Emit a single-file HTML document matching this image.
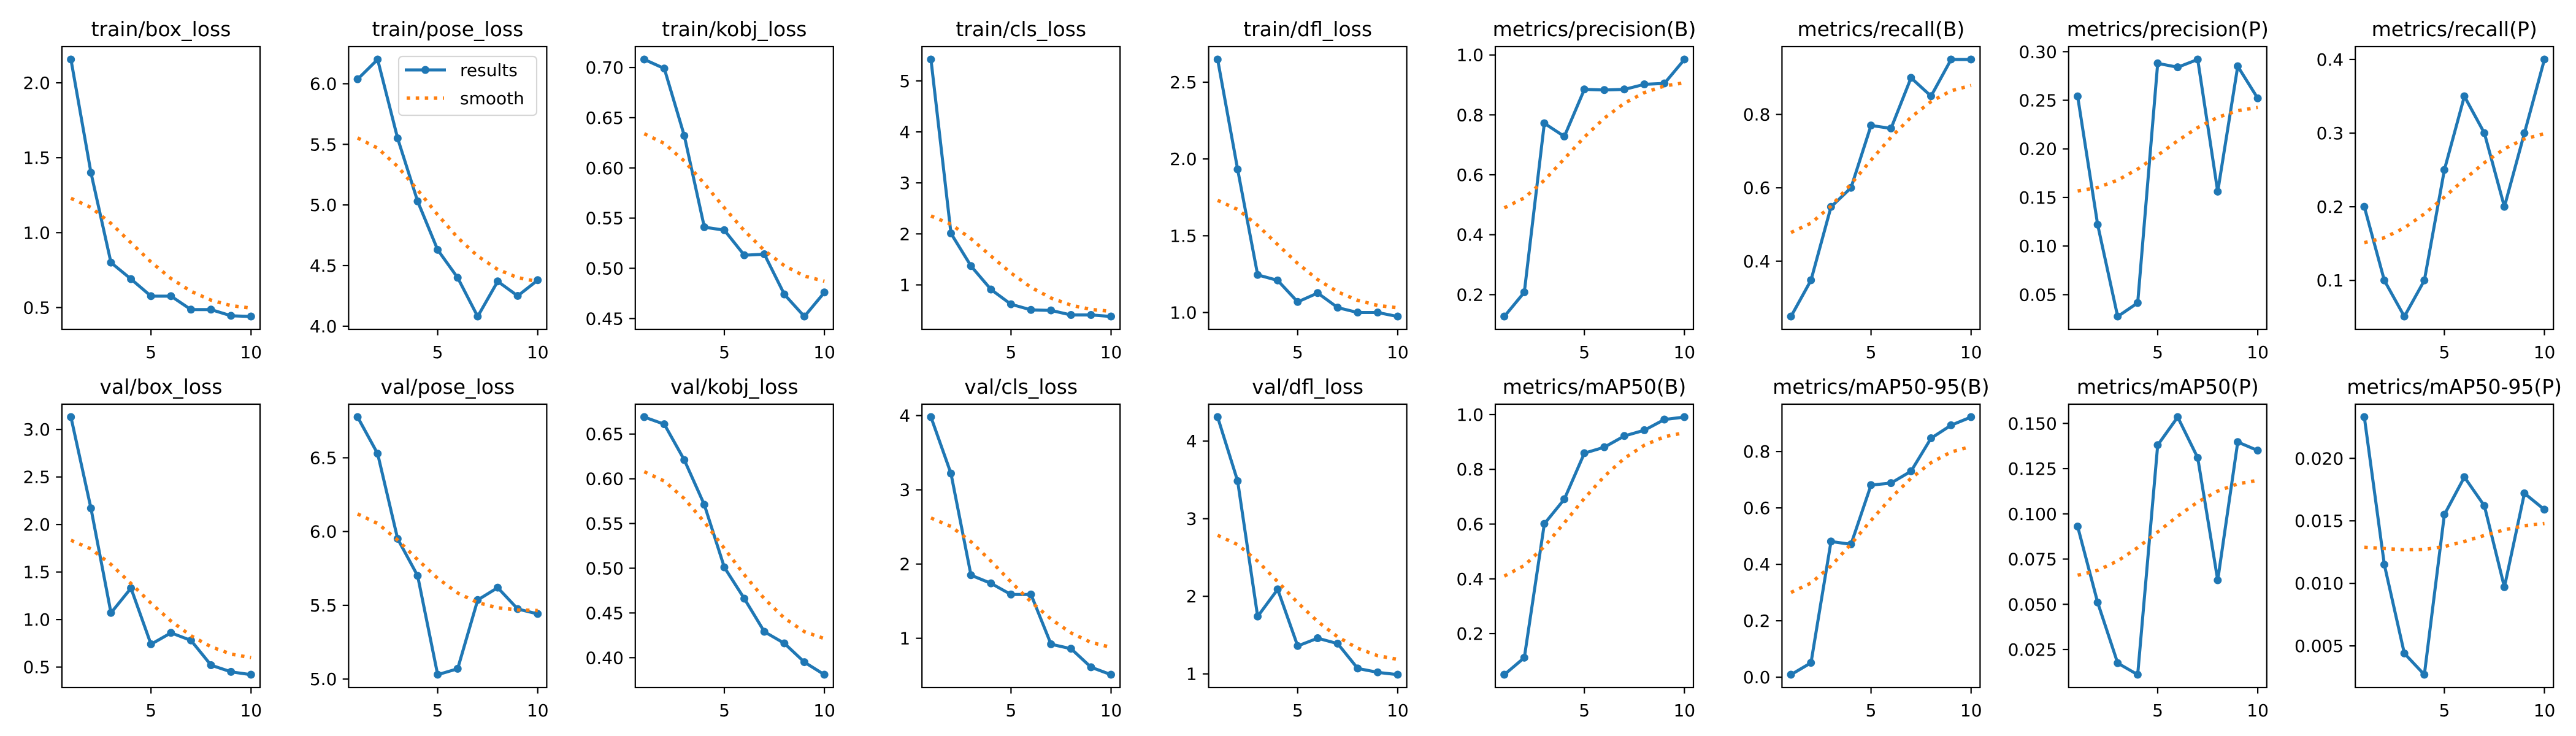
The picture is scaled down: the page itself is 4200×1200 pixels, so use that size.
<!DOCTYPE html>
<html><head><meta charset="utf-8"><style>
html,body{margin:0;padding:0;background:#fff;}
svg{display:block;font-family:"DejaVu Sans","Liberation Sans",sans-serif;}
</style></head><body>
<svg id="fig" width="4200" height="1200" viewBox="0 0 4200 1200" xmlns="http://www.w3.org/2000/svg"></svg>
<script>
const epochs = [1,2,3,4,5,6,7,8,9,10];
const titles = ["train/box_loss","train/pose_loss","train/kobj_loss","train/cls_loss","train/dfl_loss","metrics/precision(B)","metrics/recall(B)","metrics/precision(P)","metrics/recall(P)",
"val/box_loss","val/pose_loss","val/kobj_loss","val/cls_loss","val/dfl_loss","metrics/mAP50(B)","metrics/mAP50-95(B)","metrics/mAP50(P)","metrics/mAP50-95(P)"];
const trainBox = [2.156,1.40,0.80,0.69,0.576,0.576,0.486,0.486,0.445,0.44];
const trainPose = [6.037,6.20,5.55,5.03,4.63,4.40,4.08,4.37,4.25,4.38];
const trainKobj = [0.708,0.699,0.632,0.541,0.538,0.513,0.514,0.474,0.452,0.476];
const trainCls = [5.42,2.01,1.37,0.91,0.62,0.51,0.50,0.41,0.41,0.38];
const trainDfl = [2.648,1.932,1.245,1.209,1.069,1.127,1.032,1.0,1.0,0.974];
const precisionB = [0.127,0.208,0.772,0.728,0.885,0.883,0.885,0.902,0.905,0.985];
const recallB = [0.249,0.348,0.548,0.600,0.770,0.762,0.900,0.850,0.950,0.950];
const precisionP = [0.254,0.122,0.0275,0.0415,0.288,0.284,0.292,0.156,0.285,0.252];
const recallP = [0.2,0.1,0.051,0.1,0.25,0.35,0.30,0.2,0.3,0.4];
const valBox = [3.13,2.17,1.07,1.33,0.74,0.86,0.78,0.52,0.45,0.42];
const valPose = [6.776,6.528,5.951,5.70,5.03,5.07,5.536,5.62,5.475,5.442];
const valKobj = [0.669,0.661,0.621,0.571,0.501,0.466,0.429,0.416,0.395,0.381];
const valCls = [3.98,3.22,1.85,1.74,1.59,1.59,0.92,0.86,0.61,0.51];
const valDfl = [4.31,3.485,1.74,2.09,1.36,1.46,1.39,1.07,1.02,0.99];
const map50B = [0.050,0.112,0.601,0.691,0.859,0.881,0.922,0.943,0.982,0.991];
const map5095B = [0.009,0.051,0.481,0.471,0.681,0.688,0.730,0.847,0.893,0.922];
const map50P = [0.093,0.051,0.0175,0.0111,0.138,0.1535,0.131,0.0633,0.1397,0.135];
const map5095P = [0.0233,0.0115,0.0044,0.0027,0.0155,0.0185,0.0162,0.0097,0.0172,0.0159];
const seriesList = [trainBox,trainPose,trainKobj,trainCls,trainDfl,precisionB,recallB,precisionP,recallP,valBox,valPose,valKobj,valCls,valDfl,map50B,map5095B,map50P,map5095P];
const yTicks = [[0.5,1.0,1.5,2.0],[4.0,4.5,5.0,5.5,6.0],[0.45,0.50,0.55,0.60,0.65,0.70],[1,2,3,4,5],[1.0,1.5,2.0,2.5],[0.2,0.4,0.6,0.8,1.0],[0.4,0.6,0.8],[0.05,0.10,0.15,0.20,0.25,0.30],[0.1,0.2,0.3,0.4],
[0.5,1.0,1.5,2.0,2.5,3.0],[5.0,5.5,6.0,6.5],[0.40,0.45,0.50,0.55,0.60,0.65],[1,2,3,4],[1,2,3,4],[0.2,0.4,0.6,0.8,1.0],[0.0,0.2,0.4,0.6,0.8],[0.025,0.050,0.075,0.100,0.125,0.150],[0.005,0.010,0.015,0.020]];
const yDecimals = [1,1,2,0,1,1,1,2,1, 1,1,2,0,0,1,1,3,3];
const xTicks = [5,10];

const NS="http://www.w3.org/2000/svg";
const svg=document.getElementById('fig');
function mk(tag,attrs,parent){const e=document.createElementNS(NS,tag);for(const k in attrs)e.setAttribute(k,attrs[k]);(parent||svg).appendChild(e);return e;}
function smooth(y,sigma){const r=Math.floor(4*sigma+0.5);const w=[];let s=0;for(let k=-r;k<=r;k++){const v=Math.exp(-0.5*k*k/(sigma*sigma));w.push(v);s+=v;}
 const n=y.length,out=[];for(let i=0;i<n;i++){let a=0;for(let k=-r;k<=r;k++){let j=((i+k)%(2*n)+2*n)%(2*n);if(j>=n)j=2*n-1-j;a+=w[k+r]*y[j];}out.push(a/s);}return out;}
const colL=101, colStep=467.4, axW=323;
const rowTop=[76,659], axH=[461,462];
seriesList.forEach((ys,idx)=>{
 const row=Math.floor(idx/9), col=idx%9;
 const L=colL+colStep*col, T=rowTop[row], W=axW, H=axH[row];
 const g=mk('g',{});
 
 
 const sm=smooth(ys,3);
 const all=ys.concat(sm);let mn=Math.min(...all),mx=Math.max(...all);const m=(mx-mn)*0.05;const y0=mn-m,y1=mx+m;
 const x0=epochs[0]-(epochs[epochs.length-1]-epochs[0])*0.05, x1=epochs[epochs.length-1]+(epochs[epochs.length-1]-epochs[0])*0.05;
 const sx=v=>L+(v-x0)/(x1-x0)*W, sy=v=>T+H-(v-y0)/(y1-y0)*H;
 const t=mk('text',{x:L+W/2,y:T-17,'text-anchor':'middle','font-size':33,fill:'#000'},g);t.textContent=titles[idx];
 
 // ticks
 yTicks[idx].forEach(v=>{const y=sy(v);mk('line',{x1:L-9.7,x2:L,y1:y,y2:y,stroke:'#000','stroke-width':2.2},g);
  const tl=mk('text',{x:L-19,y:y+10,'text-anchor':'end','font-size':28,fill:'#000'},g);tl.textContent=v.toFixed(yDecimals[idx]);
  });
 xTicks.forEach(v=>{const x=sx(v);mk('line',{x1:x,x2:x,y1:T+H,y2:T+H+9.7,stroke:'#000','stroke-width':2.2},g);
  const tl=mk('text',{x:x,y:T+H+47,'text-anchor':'middle','font-size':28,fill:'#000'},g);tl.textContent=String(v);
  });
 const cp='cp'+idx;const cl=mk('clipPath',{id:cp},g);mk('rect',{x:L,y:T,width:W,height:H},cl);
 const res=mk('polyline',{points:ys.map((v,i)=>sx(epochs[i])+','+sy(v)).join(' '),fill:'none',stroke:'#1f77b4','stroke-width':5,'stroke-linejoin':'round','clip-path':'url(#'+cp+')'},g);
 
 ys.forEach((v,i)=>{const c=mk('circle',{cx:sx(epochs[i]),cy:sy(v),r:6.5,fill:'#1f77b4'},g);
  });
 const sl=mk('polyline',{points:sm.map((v,i)=>sx(epochs[i])+','+sy(v)).join(' '),fill:'none',stroke:'#ff7f0e','stroke-width':5.6,'stroke-dasharray':'5.6 9.2'},g);
 
 const fr=mk('rect',{x:L,y:T,width:W,height:H,fill:'none',stroke:'#000','stroke-width':2.2},g);
 
 if(idx===1){
  const lg=mk('g',{},g);
  mk('rect',{x:650,y:92,width:225,height:96,rx:6,fill:'#fff','fill-opacity':0.8,stroke:'#d6d6d6','stroke-width':2.2},lg);
  mk('line',{x1:660,x2:727,y1:114,y2:114,stroke:'#1f77b4','stroke-width':5},lg);
  mk('circle',{cx:693.5,cy:114,r:6.5,fill:'#1f77b4'},lg);
  const a=mk('text',{x:750,y:124,'font-size':28,fill:'#000'},lg);a.textContent='results';
  
  mk('line',{x1:663,x2:724,y1:160,y2:160,stroke:'#ff7f0e','stroke-width':5.6,'stroke-dasharray':'5.6 9.2'},lg);
  const b=mk('text',{x:750,y:170,'font-size':28,fill:'#000'},lg);b.textContent='smooth';
  
 }
});
</script>
</body></html>
